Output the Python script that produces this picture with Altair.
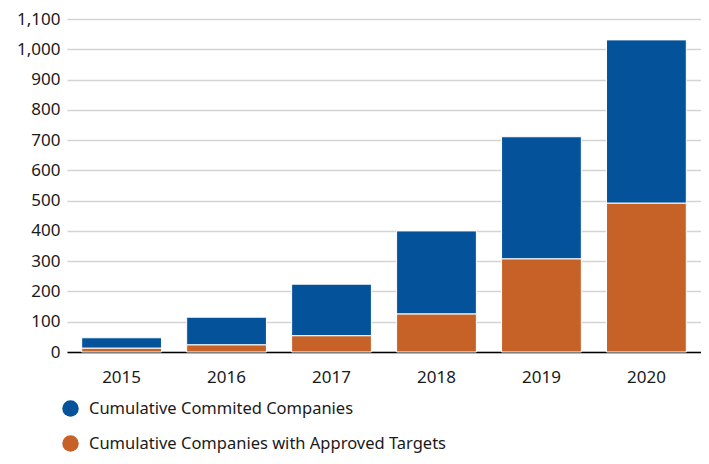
import altair as alt
import pandas as pd

years = ["2015", "2016", "2017", "2018", "2019", "2020"]
approved = [13, 24, 54, 126, 308, 492]
committed_extra = [34, 91, 170, 274, 403, 539]
series_names = ["Cumulative Commited Companies", "Cumulative Companies with Approved Targets"]
colors = ["#04529A", "#C66228"]

rows = []
for y, a, c in zip(years, approved, committed_extra):
    rows.append({"year": y, "series": series_names[1], "value": a, "order": 0})
    rows.append({"year": y, "series": series_names[0], "value": c, "order": 1})
df = pd.DataFrame(rows)

FONT = "Noto Sans"

chart = alt.Chart(df).mark_bar(stroke="white", strokeWidth=1).encode(
    x=alt.X("year:N", title=None,
            scale=alt.Scale(paddingInner=0.24, paddingOuter=0.14),
            axis=alt.Axis(labelAngle=0, labelFontSize=17, labelPadding=17, ticks=False,
                          domainColor="#000000", domainWidth=1.5, labelColor="#1a1a1a",
                          labelFont=FONT)),
    y=alt.Y("value:Q", title=None, stack="zero",
            scale=alt.Scale(domain=[0, 1100]),
            axis=alt.Axis(values=list(range(0, 1101, 100)), format=",.0f", domain=False, ticks=False,
                          labelFontSize=17, labelPadding=7, gridColor="#d4d4d4", gridWidth=1.5,
                          labelColor="#1a1a1a", labelFont=FONT)),
    color=alt.Color("series:N", scale=alt.Scale(domain=series_names, range=colors),
                    legend=alt.Legend(title=None, orient="none", legendX=-5, legendY=381,
                                      direction="vertical", symbolType="circle", symbolSize=272,
                                      symbolStrokeWidth=0, labelFontSize=16.5, labelFont=FONT,
                                      labelColor="#1a1a1a", rowPadding=18, labelOffset=10,
                                      labelLimit=600)),
    order=alt.Order("order:Q"),
).properties(
    width=634, height=333,
    autosize=alt.AutoSizeParams(type="none"),
    padding={"left": 59, "top": 11, "right": 0, "bottom": 104},
).configure_view(stroke=None)

chart.save("out.html", embed_options={"renderer": "svg", "actions": False})
